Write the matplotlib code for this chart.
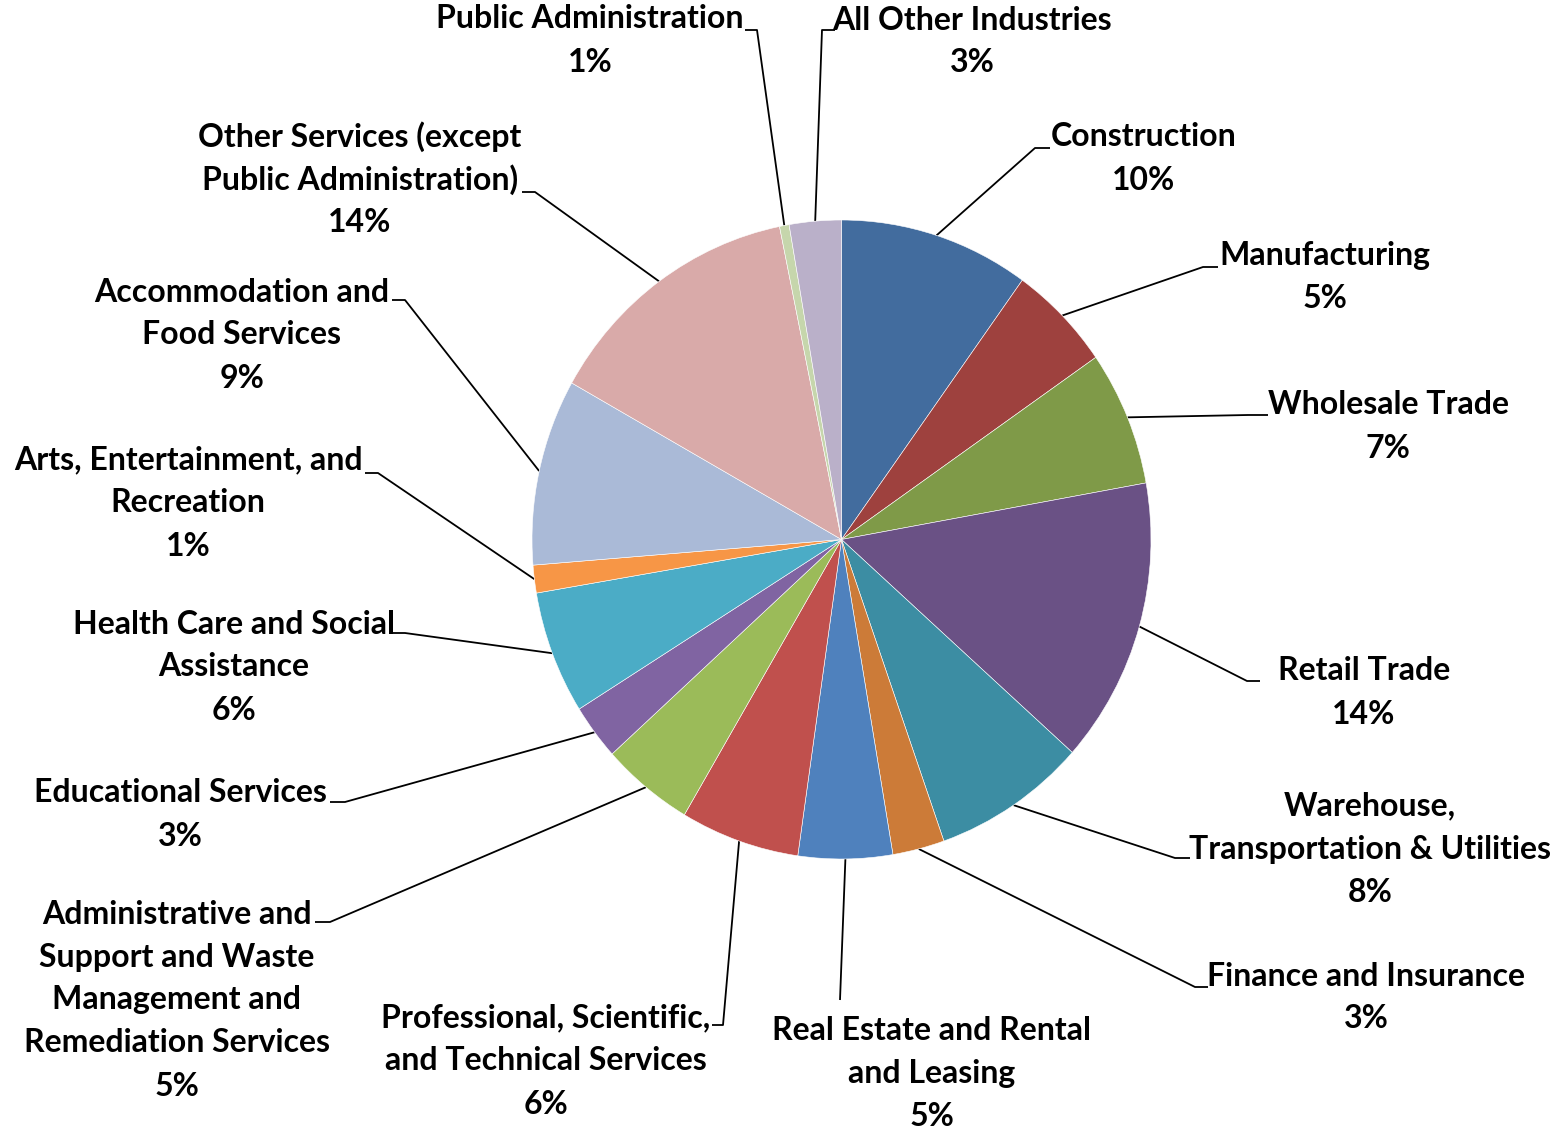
import matplotlib
matplotlib.use("Agg")
import matplotlib.pyplot as plt
import numpy as np

# ---------------- data ----------------
categories = [
    "Construction",
    "Manufacturing",
    "Wholesale Trade",
    "Retail Trade",
    "Warehouse,\nTransportation & Utilities",
    "Finance and Insurance",
    "Real Estate and Rental\nand Leasing",
    "Professional, Scientific,\nand Technical Services",
    "Administrative and\nSupport and Waste\nManagement and\nRemediation Services",
    "Educational Services",
    "Health Care and Social\nAssistance",
    "Arts, Entertainment, and\nRecreation",
    "Accommodation and\nFood Services",
    "Other Services (except\nPublic Administration)",
    "Public Administration",
    "All Other Industries",
]
shares = [9.9, 5.4, 6.8, 14.4, 8.0, 2.7, 4.9, 6.2, 4.8, 2.8, 6.2, 1.4, 9.4, 13.6, 0.5, 2.7]
colors = ["#426C9E", "#9E413E", "#7F9A48", "#6A5185", "#3C8DA3", "#CC7B38",
          "#4F81BD", "#C0504D", "#9BBB59", "#8064A2", "#4BACC6", "#F79646",
          "#AABAD7", "#D9AAA9", "#C6D6AC", "#BAB0C9"]

# ---------------- layout (pixel coords, y from top) ----------------
W, H = 1566, 1129
CX, CY, RX, RY = 841.5, 539.5, 309.5, 319.5
# label centre x, first-line centre y, elbow x, elbow y, tick end x
layout = [
    (1144, 137, 1035, 148, 1050),
    (1325, 255, 1203, 267, 1218),
    (1388, 405, 1248, 415, 1268),
    (1364, 671, 1247, 681, 1260),
    (1370, 806, 1175, 858, 1190),
    (1366, 976, 1195, 987, 1208),
    (932, 1031, 840, 1000, 840),
    (546, 1018, 723, 1025, 712),
    (177, 914, 330, 922, 315),
    (180, 793, 345, 802, 330),
    (234, 624, 405, 633, 393),
    (188, 460, 378, 473, 365),
    (242, 292, 405, 300, 392),
    (360, 137, 535, 192, 522),
    (590, 19, 757, 30, 745),
    (972, 20, 822, 30, 835),
]
LINE = 43
FONT = dict(family=["Lato", "DejaVu Sans"], fontweight="bold", fontsize=23, color="black")

fig = plt.figure(figsize=(W / 100, H / 100), dpi=100)
ax = fig.add_axes([0, 0, 1, 1])
pax = fig.add_axes([(CX - RX) / W, (H - CY - RY) / H, 2 * RX / W, 2 * RY / H])

wedges, _ = pax.pie(shares, colors=colors, startangle=90, counterclock=False,
                    radius=1, wedgeprops=dict(edgecolor="white", linewidth=0.4))
pax.set_aspect("auto")
pax.set_xlim(-1, 1)
pax.set_ylim(-1, 1)
pax.axis("off")

def fy(y):
    return H - y

total = sum(shares)
for w, name, v, (lx, ly, ex, ey, tx) in zip(wedges, categories, shares, layout):
    mid = np.deg2rad((w.theta1 + w.theta2) / 2)
    px = CX + RX * np.cos(mid)
    py = fy(CY) + RY * np.sin(mid)
    ax.plot([px, ex, tx], [py, fy(ey), fy(ey)], color="black", lw=1.3,
            solid_capstyle="butt", zorder=3)
    lines = name.split("\n") + [f"{round(v / total * 100)}%"]
    for i, t in enumerate(lines):
        ax.text(lx, fy(ly + i * LINE), t, ha="center", va="center", **FONT)

ax.set_xlim(0, W)
ax.set_ylim(0, H)
ax.axis("off")
fig.savefig("out.png", dpi=100, facecolor="white")
